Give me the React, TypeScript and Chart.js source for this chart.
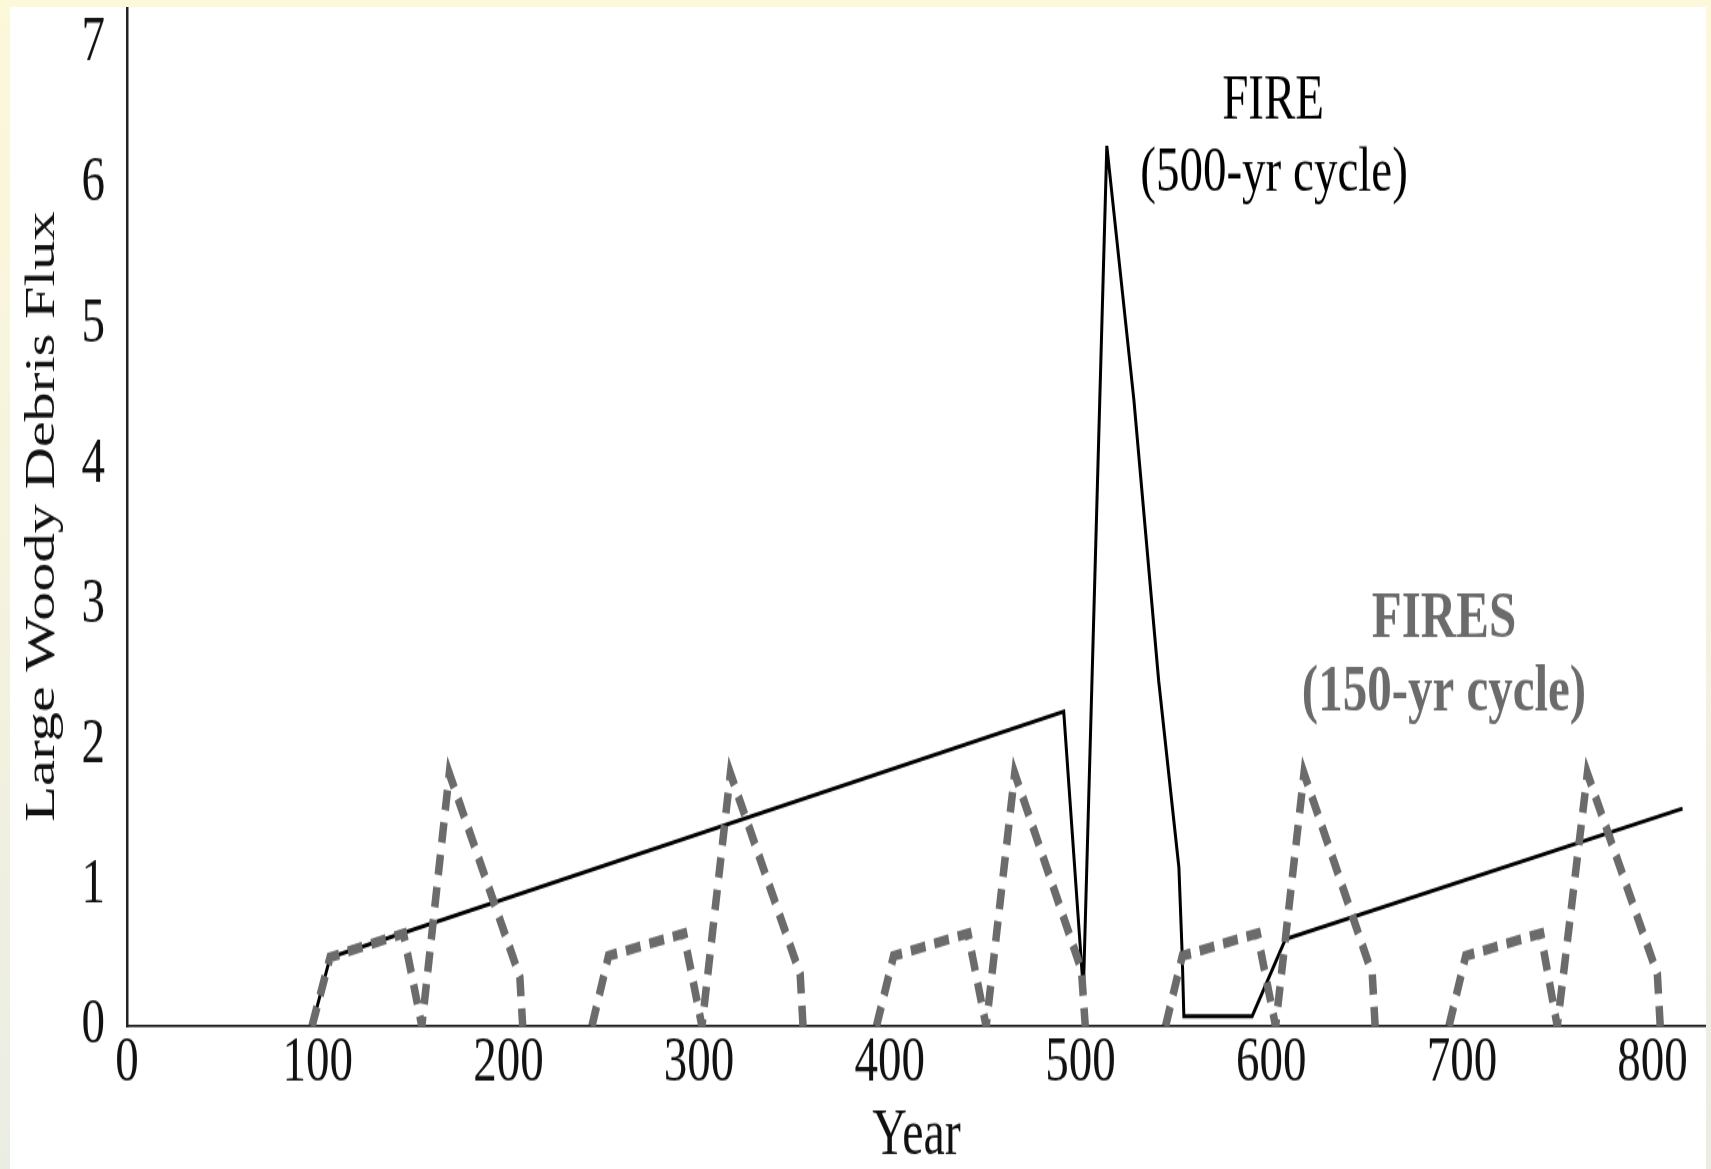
import React, { useEffect, useRef } from "react";
import { Chart, registerables } from "chart.js";

Chart.register(...registerables);

// ---- data ----
const yearTicks = [0, 100, 200, 300, 400, 500, 600, 700, 800];
const fluxTicks = [0, 1, 2, 3, 4, 5, 6, 7];

// 500-yr fire cycle (solid black)
const solidYears = [97, 106.5, 491.2, 501.5, 513.8, 528, 541, 551.6, 553.3, 554.2, 590, 607.5, 815.7];
const solidFlux = [0, 0.49, 2.24, 0.25, 6.27, 4.46, 2.46, 1.13, 0.52, 0.07, 0.07, 0.62, 1.55];

// 150-yr fire cycle (grey dashed); null = break between cycles
const fireYears = [
  97, 106.5, 145, 154.6, 169, 206, 207.5, 225,
  243.8, 252.5, 291.9, 301.5, 316.4, 353, 354.5, 375,
  393, 402, 441, 450.5, 465.5, 500.5, 502.5, 525,
  544.6, 553.4, 592.7, 602.3, 617.2, 653, 654.5, 675,
  693.2, 702, 741.3, 750, 765.8, 802.5, 804,
];
const fireFlux = [
  0, 0.49, 0.66, 0, 1.8, 0.35, 0, null,
  0, 0.5, 0.66, 0, 1.8, 0.37, 0, null,
  0, 0.5, 0.66, 0, 1.8, 0.4, 0, null,
  0, 0.5, 0.66, 0, 1.8, 0.37, 0, null,
  0, 0.5, 0.66, 0, 1.8, 0.37, 0,
];

// text labels placed in data coordinates
const notes = [
  { text: "FIRE", year: 601, flux: 6.47, bold: false, color: "#000000", size: 47 },
  { text: "(500-yr cycle)", year: 601.5, flux: 5.95, bold: false, color: "#000000", size: 47 },
  { text: "FIRES", year: 690.6, flux: 2.77, bold: true, color: "#6b6b6b", size: 49 },
  { text: "(150-yr cycle)", year: 690.6, flux: 2.25, bold: true, color: "#6b6b6b", size: 49 },
];

const SERIF = "'Liberation Serif', 'Times New Roman', serif";
const CANVAS_W = 1696;
const CANVAS_H = 854; // drawn height; displayed stretched vertically
const DISPLAY_H = 1162;

const notesPlugin = {
  id: "notes",
  afterDraw(chart: any) {
    const { ctx, scales } = chart;
    ctx.save();
    ctx.textAlign = "center";
    ctx.textBaseline = "alphabetic";
    for (const n of notes) {
      ctx.font = `${n.bold ? "bold " : ""}${n.size}px ${SERIF}`;
      ctx.fillStyle = n.color;
      ctx.fillText(n.text, scales.x.getPixelForValue(n.year), scales.y.getPixelForValue(n.flux));
    }
    ctx.restore();
  },
};

export default function App() {
  const ref = useRef<HTMLCanvasElement | null>(null);

  useEffect(() => {
    if (!ref.current) return;
    const chart = new Chart(ref.current, {
      type: "line",
      data: {
        datasets: [
          {
            label: "150-yr cycle",
            data: fireYears.map((x, i) => ({ x, y: fireFlux[i] })) as any,
            borderColor: "#6b6b6b",
            borderWidth: 7.5,
            borderDash: [15, 9],
            borderCapStyle: "butt",
            pointRadius: 0,
            tension: 0,
            spanGaps: false,
            fill: false,
          },
          {
            label: "500-yr cycle",
            data: solidYears.map((x, i) => ({ x, y: solidFlux[i] })),
            borderColor: "#000000",
            borderWidth: 3,
            pointRadius: 0,
            tension: 0,
            fill: false,
          },
        ],
      },
      options: {
        animation: false,
        responsive: false,
        events: [],
        layout: { padding: 0, autoPadding: false },
        plugins: {
          legend: { display: false },
          tooltip: { enabled: false },
          title: { display: false },
        },
        scales: {
          x: {
            type: "linear",
            min: 0,
            max: 828,
            grid: { display: false, drawTicks: false },
            border: { display: true, color: "#222222", width: 1.8 },
            afterBuildTicks: (s: any) => {
              s.ticks = yearTicks.map((v) => ({ value: v }));
            },
            afterFit: (s: any) => {
              s.height = 105;
              s.paddingLeft = 0;
              s.paddingRight = 0;
              s.paddingTop = 0;
              s.paddingBottom = 0;
            },
            ticks: {
              color: "#111111",
              padding: 4,
              maxRotation: 0,
              autoSkip: false,
              font: { family: SERIF, size: 47, lineHeight: 1 },
              callback: (v: any) => String(v),
            },
            title: {
              display: true,
              text: "Year",
              color: "#111111",
              padding: { top: 0, bottom: 0 },
              font: { family: SERIF, size: 48, lineHeight: 1 },
            },
          },
          y: {
            type: "linear",
            min: 0,
            max: 7.26,
            grid: { display: false, drawTicks: false },
            border: { display: true, color: "#222222", width: 2.5 },
            afterBuildTicks: (s: any) => {
              s.ticks = fluxTicks.map((v) => ({ value: v }));
            },
            afterFit: (s: any) => {
              s.width = 117;
              s.paddingLeft = 0;
              s.paddingRight = 0;
              s.paddingTop = 0;
              s.paddingBottom = 0;
            },
            ticks: {
              color: "#111111",
              padding: 22,
              autoSkip: false,
              font: { family: SERIF, size: 47 },
              callback: (v: any) => String(v),
            },
            title: {
              display: true,
              text: "Large Woody Debris Flux",
              color: "#111111",
              padding: { top: 7, bottom: 0 },
              font: { family: SERIF, size: 43 },
            },
          },
        },
      },
      plugins: [notesPlugin],
    });
    return () => chart.destroy();
  }, []);

  return (
    <div
      style={{
        position: "absolute",
        left: 0,
        top: 0,
        width: 1711,
        height: 1169,
        overflow: "hidden",
        background: "linear-gradient(to bottom, #fcf8da 0%, #f4f2df 55%, #eaede4 100%)",
      }}
    >
      <canvas
        ref={ref}
        width={CANVAS_W}
        height={CANVAS_H}
        style={{
          position: "absolute",
          left: 10,
          top: 7,
          width: `${CANVAS_W}px`,
          height: `${DISPLAY_H}px`,
          background: "#ffffff",
        }}
      />
    </div>
  );
}
